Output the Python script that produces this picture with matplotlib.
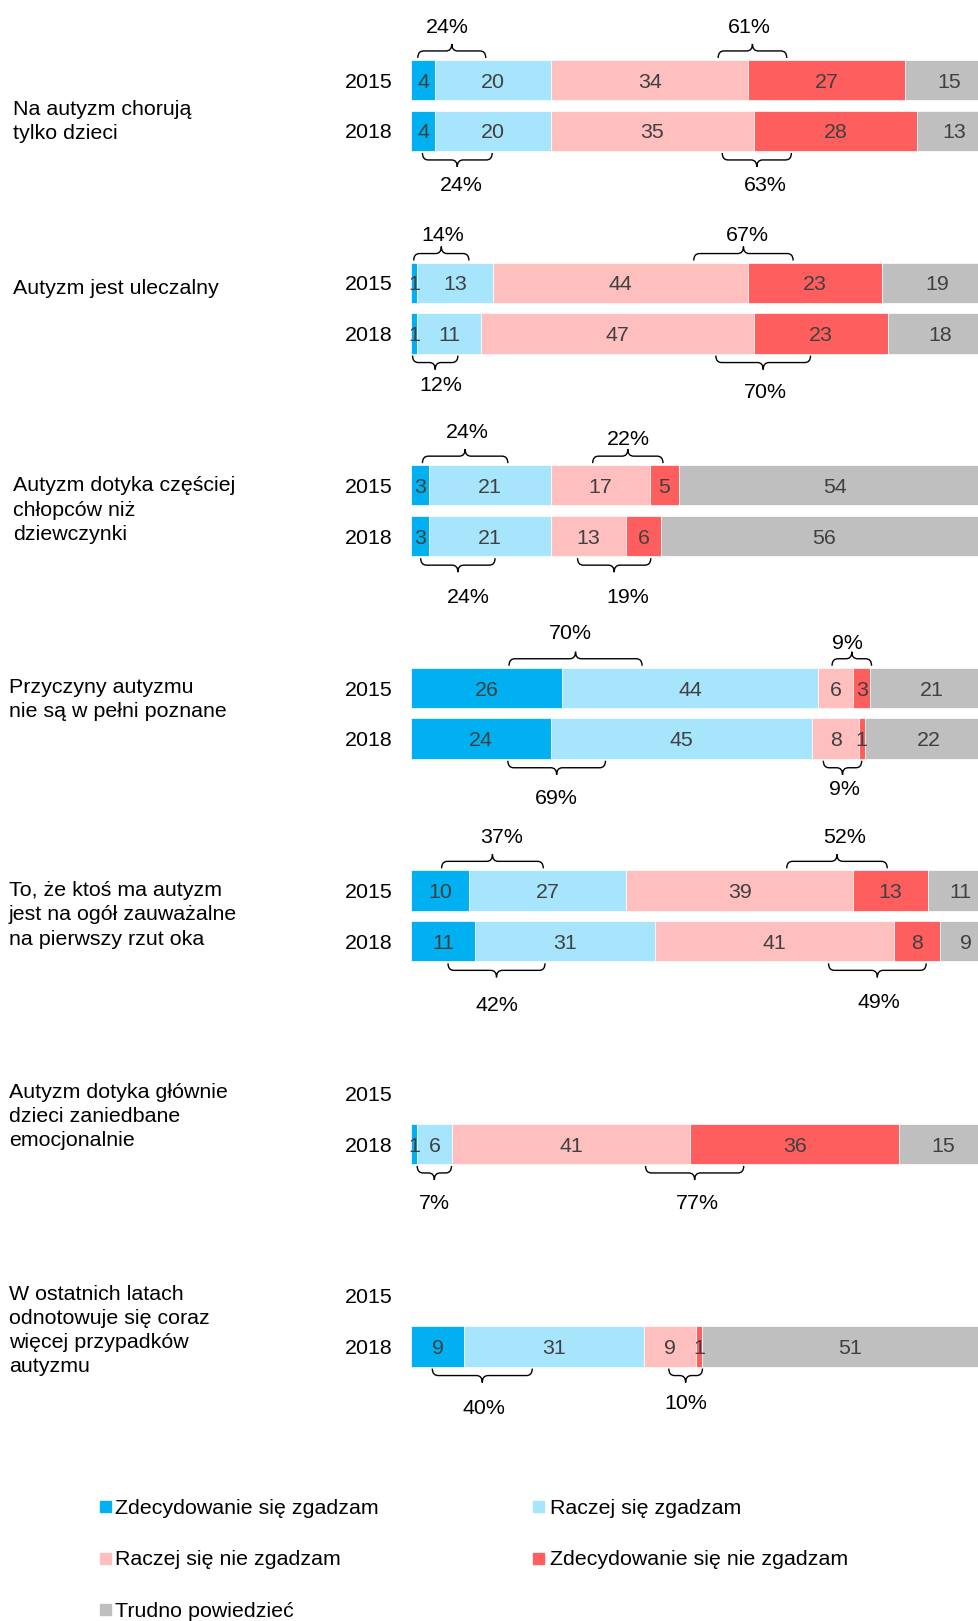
import numpy as np
import matplotlib
matplotlib.use('Agg')
import matplotlib.pyplot as plt
from matplotlib.path import Path
from matplotlib.patches import PathPatch, Rectangle

plt.rcParams['font.family'] = ['Liberation Sans', 'DejaVu Sans']

# data
questions = [
    'Na autyzm chorują\ntylko dzieci',
    'Autyzm jest uleczalny',
    'Autyzm dotyka częściej\nchłopców niż\ndziewczynki',
    'Przyczyny autyzmu\nnie są w pełni poznane',
    'To, że ktoś ma autyzm\njest na ogół zauważalne\nna pierwszy rzut oka',
    'Autyzm dotyka głównie\ndzieci zaniedbane\nemocjonalnie',
    'W ostatnich latach\nodnotowuje się coraz\nwięcej przypadków\nautyzmu',
]
years = ['2015', '2018']
categories = ['Zdecydowanie się zgadzam', 'Raczej się zgadzam', 'Raczej się nie zgadzam',
              'Zdecydowanie się nie zgadzam', 'Trudno powiedzieć']
colors = ['#00B0F0', '#A7E5FD', '#FFBFBF', '#FF5E5E', '#BFBFBF']

vals_2015 = [[4, 20, 34, 27, 15], [1, 13, 44, 23, 19], [3, 21, 17, 5, 54],
             [26, 44, 6, 3, 21], [10, 27, 39, 13, 11], None, None]
vals_2018 = [[4, 20, 35, 28, 13], [1, 11, 47, 23, 18], [3, 21, 13, 6, 56],
             [24, 45, 8, 1, 22], [11, 31, 41, 8, 9], [1, 6, 41, 36, 15], [9, 31, 9, 1, 51]]

# brace layout: (x start, x end, label x, label distance from bar in px) for agree / disagree
brace_2015 = [[(1.1, 12.8, 6.1, 35), (52.8, 64.6, 58.2, 35)],
              [(0.4, 9.9, 5.4, 29), (48.6, 65.7, 57.9, 29)],
              [(1.9, 16.6, 9.7, 35), (31.2, 43.3, 37.4, 28)],
              [(16.8, 39.7, 27.4, 36), (72.4, 79.2, 75.1, 26)],
              [(5.2, 22.7, 15.5, 35), (64.6, 81.9, 74.5, 35)],
              None, None]
brace_2018 = [[(1.9, 13.9, 8.6, 32), (53.5, 65.4, 61.0, 32)],
              [(0.2, 8.0, 5.1, 30), (52.4, 68.7, 61.0, 37)],
              [(1.6, 14.4, 9.8, 39), (28.6, 41.2, 37.2, 39)],
              [(16.6, 33.4, 25.0, 38), (70.9, 77.5, 74.6, 29)],
              [(6.3, 23.0, 14.7, 42), (71.8, 88.6, 80.5, 39)],
              [(1.0, 6.9, 4.0, 37), (40.3, 57.2, 49.2, 37)],
              [(3.6, 20.8, 12.5, 40), (44.3, 50.1, 47.3, 35)]]

question_x = [13, 13, 13, 9, 9, 9, 9]
question_base = [115, 294, 491, 693, 896, 1097.5, 1299]   # baseline of first line
LINE_PX = 24.3

W, H = 979, 1621
AX_LEFT = 411.4
UNIT = 5.81          # px per percent
G0, STEP, ROW, BAR_H = 80.1, 202.6, 50.7, 40.3
FS = 15.4
HALF_CAP = 7.7

fig = plt.figure(figsize=(W / 100, H / 100), dpi=100)
ax = fig.add_axes([AX_LEFT / W, 0, 1 - AX_LEFT / W, 1])
ax.set_xlim(0, (W - AX_LEFT) / UNIT)
ax.set_ylim(H, 0)
ax.axis('off')


def brace(x0, x1, y_edge, d):
    e, b, t = y_edge + d * 2, y_edge + d * 9, y_edge + d * 16
    r = 1.0
    xm = (x0 + x1) / 2
    verts = [(x0, e), (x0, b), (x0 + r, b), (xm - r, b), (xm, b), (xm, t),
             (xm, b), (xm + r, b), (x1 - r, b), (x1, b), (x1, e)]
    codes = [Path.MOVETO, Path.CURVE3, Path.CURVE3, Path.LINETO, Path.CURVE3, Path.CURVE3,
             Path.CURVE3, Path.CURVE3, Path.LINETO, Path.CURVE3, Path.CURVE3]
    ax.add_patch(PathPatch(Path(verts, codes), fill=False, lw=1.0, edgecolor='black', clip_on=False))


year_x = (392.9 - AX_LEFT) / UNIT

for g in range(len(questions)):
    # matplotlib anchors 'baseline' on the last line of a multi-line text
    nlines = questions[g].count('\n') + 1
    y_last = question_base[g] + (nlines - 1) * LINE_PX
    fig.text(question_x[g] / W, 1 - y_last / H, questions[g], fontsize=FS,
             va='baseline', ha='left', linespacing=1.34)
    for r, (vals, braces) in enumerate([(vals_2015[g], brace_2015[g]), (vals_2018[g], brace_2018[g])]):
        yc = G0 + g * STEP + r * ROW
        ax.text(year_x, yc + HALF_CAP, years[r], ha='right', va='baseline', fontsize=FS)
        if vals is None:
            continue
        vals = np.array(vals)
        left = np.concatenate([[0], np.cumsum(vals)[:-1]])
        ax.barh([yc] * len(vals), vals, left=left, height=BAR_H, color=colors,
                edgecolor='white', linewidth=0.5)
        for l, v in zip(left, vals):
            ax.text(l + v / 2, yc + HALF_CAP, str(v), ha='center', va='baseline',
                    fontsize=FS, color='#404040')
        sums = [vals[0] + vals[1], vals[2] + vals[3]]
        if r == 0:
            edge, d = yc - BAR_H / 2, -1
        else:
            edge, d = yc + BAR_H / 2, 1
        for (x0, x1, lx, off), s in zip(braces, sums):
            brace(x0, x1, edge, d)
            ax.text(lx, edge + d * off + HALF_CAP, f'{s}%', ha='center', va='baseline', fontsize=FS)

# legend
leg_sq = [100.3, 533.5]
leg_tx = [114.8, 550.0]
for i, cat in enumerate(categories):
    col, row = i % 2, i // 2
    yc = 1506 + row * 51.5
    fig.add_artist(Rectangle((leg_sq[col] / W, 1 - (yc + 6) / H), 11 / W, 11 / H,
                             transform=fig.transFigure, color=colors[i]))
    fig.text(leg_tx[col] / W, 1 - (yc + HALF_CAP) / H, cat, fontsize=FS, va='baseline')

fig.savefig('out.png', dpi=100, facecolor='white')
